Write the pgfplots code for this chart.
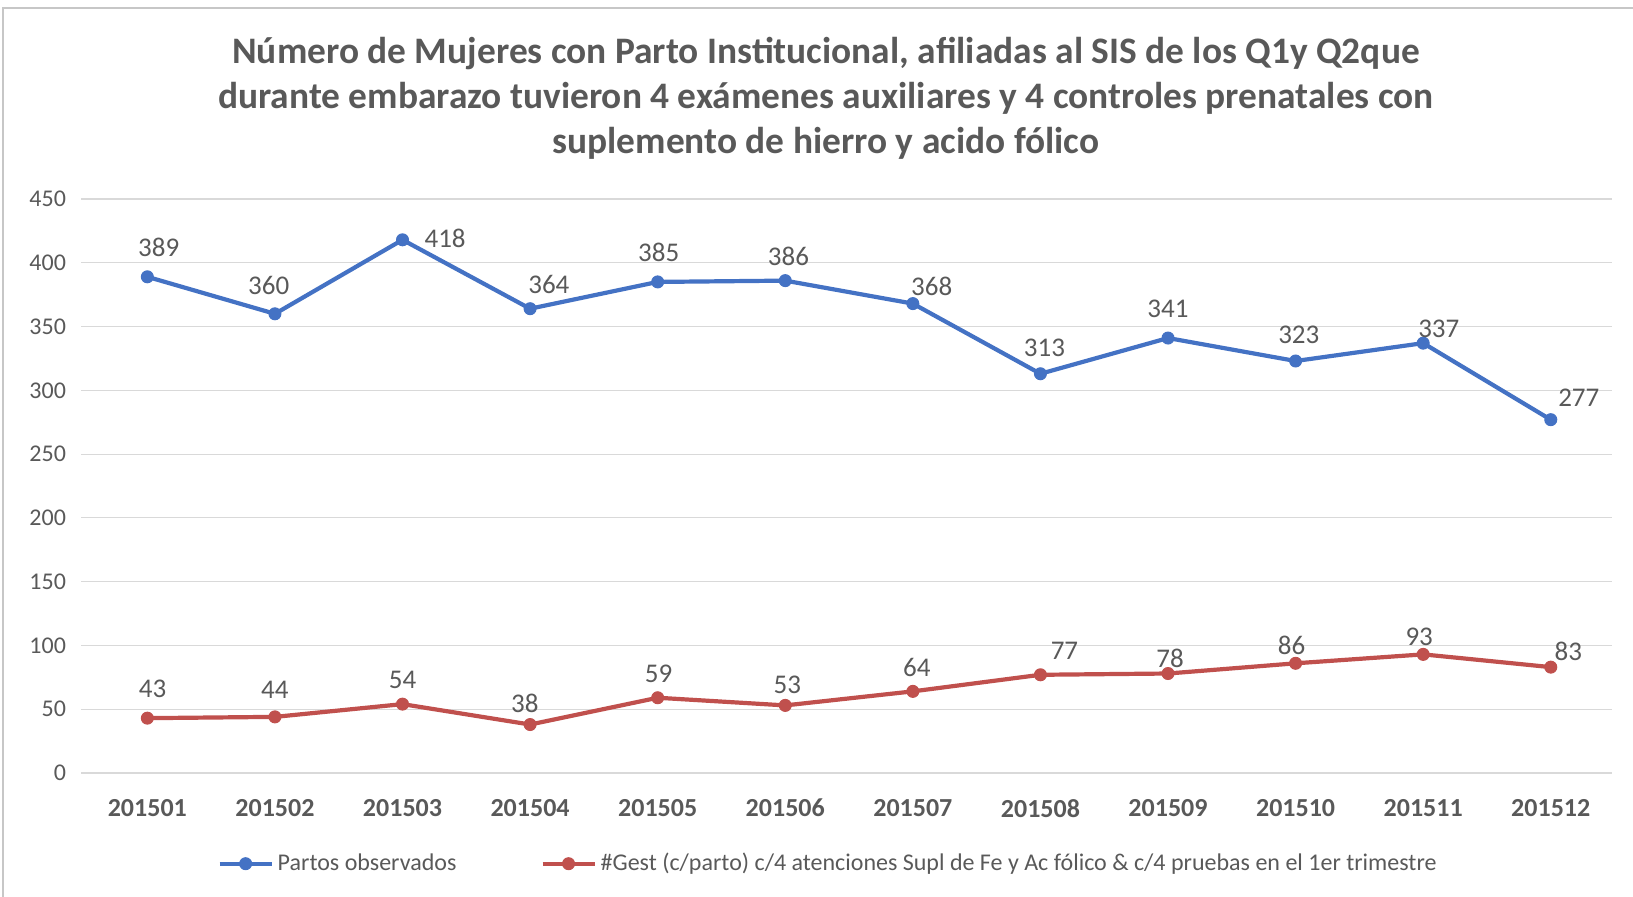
\documentclass[border=0pt]{standalone}
\usepackage{pgfplots}
\usepackage{pgfplotstable}
\pgfplotsset{compat=1.18}
\usepackage{fontspec}
\setmainfont{Carlito}
\definecolor{cblue}{RGB}{68,114,196}
\definecolor{cred}{RGB}{192,80,77}
\definecolor{tgray}{RGB}{89,89,89}
\definecolor{ggray}{RGB}{217,217,217}

\pgfplotstableread{
x y dx dy
0 389 5.7 14.6
1 360 -3.1 14
2 418 21.3 0.5
3 364 9.4 12
4 385 0.5 14.6
5 386 1.6 12
6 368 9.4 8.8
7 313 2 13
8 341 0 14.6
9 323 1.6 13
10 337 7.8 7.3
11 277 14 11
}\partos

\pgfplotstableread{
x y dx dy
0 43 2.6 14.6
1 44 0 13.5
2 54 0 12
3 38 -2.6 10.4
4 59 0.5 12
5 53 1 10.4
6 64 2 12
7 77 12 12
8 78 1 7.8
9 86 -2 8.8
10 93 -2 8.8
11 83 8.8 7.8
}\gest

\begin{document}
\begin{tikzpicture}
\useasboundingbox (0,0) rectangle (816.5pt,448pt);
\draw[color=black!22, line width=1.2pt] (1.5pt,-20pt) -- (1.5pt,444pt) -- (840pt,444pt);
\node[align=center, text=tgray, font=\fontsize{18.7}{22.5}\selectfont\bfseries] at (413pt,399pt)
{Número de Mujeres con Parto Institucional, afiliadas al SIS de los Q1y Q2que\\
durante embarazo tuvieron 4 exámenes auxiliares y 4 controles prenatales con\\
suplemento de hierro y acido fólico};
\begin{axis}[
  at={(40.5pt,61.5pt)}, anchor=south west,
  scale only axis, width=765.5pt, height=287pt,
  xmin=-0.52, xmax=11.48, ymin=0, ymax=450,
  xtick=data,
  xticklabels={201501,201502,201503,201504,201505,201506,201507,201508,201509,201510,201511,201512},
  ytick={0,50,...,450},
  /pgf/number format/assume math mode=true,
  axis line style={draw=none},
  major tick length=0pt,
  ymajorgrids, grid style={ggray, line width=0.6pt},
  yticklabel style={text=tgray, font=\fontsize{12}{14}\selectfont, xshift=-4pt},
  xticklabel style={text=tgray, font=\fontsize{13}{15}\selectfont\bfseries, yshift=-9.5pt},
  clip=false,
  nodes near coords,
  point meta=y,
  visualization depends on={\thisrow{dx} \as \dx},
  visualization depends on={\thisrow{dy} \as \dy},
  every node near coord/.append style={anchor=center, xshift=\dx pt, yshift=\dy pt, text=tgray, font=\fontsize{13.5}{15}\selectfont},
  legend columns=2,
  legend style={at={(axis description cs:0.4886,-0.158)}, anchor=center, draw=none, fill=none,
    font=\fontsize{12}{14}\selectfont, text=tgray,
    /tikz/every even column/.append style={column sep=40pt}},
  legend cell align=left,
  legend image code/.code={\draw[mark repeat=2,mark phase=2,#1] plot coordinates {(0pt,0pt) (13pt,0pt) (26pt,0pt)};},
]
\addplot[cblue, line width=2.1pt, mark=*, mark size=3pt, mark options={fill=cblue, draw=cblue, line width=0.5pt}] table[x=x,y=y] {\partos};
\addlegendentry{Partos observados}
\addplot[cred, line width=2.1pt, mark=*, mark size=3pt, mark options={fill=cred, draw=cred, line width=0.5pt}] table[x=x,y=y] {\gest};
\addlegendentry{\#Gest (c/parto) c/4 atenciones Supl de Fe y Ac fólico \& c/4 pruebas en el 1er trimestre}
\end{axis}
\end{tikzpicture}
\end{document}
